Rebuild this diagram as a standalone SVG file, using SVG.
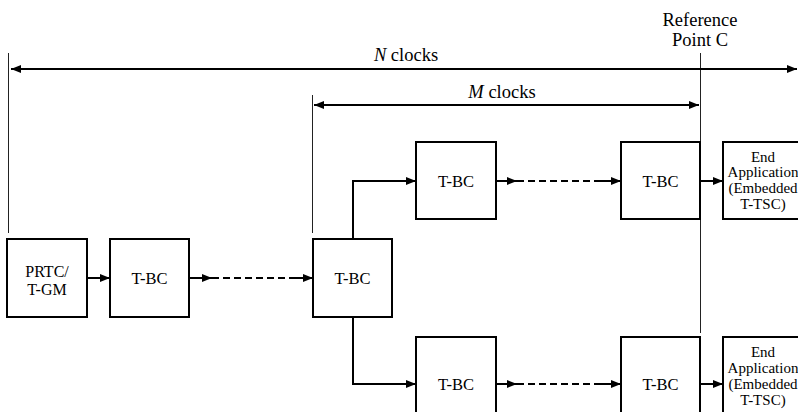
<svg xmlns="http://www.w3.org/2000/svg" width="798" height="412" viewBox="0 0 798 412">
<defs>
<marker id="ah" markerUnits="userSpaceOnUse" markerWidth="11" markerHeight="9" refX="10" refY="4" orient="auto-start-reverse">
<path d="M0,0 L10,4 L0,8 z" fill="#000"/>
</marker>
</defs>
<style>
.box{fill:#fff;stroke:#000;stroke-width:2}
text{font-family:"Liberation Serif","Times New Roman",serif;fill:#000;text-anchor:middle}
.t{font-size:16.5px}
.p{font-size:16px}
.e{font-size:15px}
.lbl{font-size:18.5px}
.guide{stroke:#222;stroke-width:1;fill:none}
.c{stroke:#000;stroke-width:2;fill:none}
.arr{marker-end:url(#ah)}
.dash{stroke-dasharray:7 4}
</style>
<g id="guides">
<line class="guide" x1="8.5" y1="53" x2="8.5" y2="233"/>
<line class="guide" x1="312.5" y1="95" x2="312.5" y2="233"/>
<line class="guide" x1="700.5" y1="53" x2="700.5" y2="333"/>
</g>
<g id="dimensions">
<line class="c" x1="11" y1="69" x2="797" y2="69" marker-start="url(#ah)" marker-end="url(#ah)"/>
<text class="lbl" x="406" y="61"><tspan font-style="italic">N</tspan> clocks</text>
<line class="c" x1="314" y1="105" x2="699" y2="105" marker-start="url(#ah)" marker-end="url(#ah)"/>
<text class="lbl" x="502" y="98"><tspan font-style="italic">M</tspan> clocks</text>
<text class="lbl" x="700" y="26">Reference</text>
<text class="lbl" x="700" y="46">Point C</text>
</g>
<g id="connectors">
<line class="c arr" x1="87" y1="278" x2="110" y2="278"/>
<line class="c arr" x1="189" y1="278" x2="212" y2="278"/>
<line class="c dash" x1="212" y1="278" x2="289" y2="278"/>
<line class="c arr" x1="289" y1="278" x2="313" y2="278"/>
<polyline class="c arr" points="353,239 353,181 416,181"/>
<polyline class="c arr" points="353,317 353,384 416,384"/>
<line class="c arr" x1="497" y1="181" x2="517" y2="181"/>
<line class="c dash" x1="517" y1="181" x2="598" y2="181"/>
<line class="c arr" x1="598" y1="181" x2="621" y2="181"/>
<line class="c arr" x1="700" y1="181" x2="723" y2="181"/>
<line class="c arr" x1="497" y1="384" x2="517" y2="384"/>
<line class="c dash" x1="517" y1="384" x2="598" y2="384"/>
<line class="c arr" x1="598" y1="384" x2="621" y2="384"/>
<line class="c arr" x1="700" y1="384" x2="723" y2="384"/>
</g>
<g id="prtc">
<rect class="box" x="7" y="239" width="80" height="78"/>
<text class="p" x="47" y="277">PRTC/</text>
<text class="p" x="47" y="295">T-GM</text>
</g>
<g id="tbc1">
<rect class="box" x="110" y="239" width="79" height="78"/>
<text class="t" x="149.5" y="284">T-BC</text>
</g>
<g id="tbc2">
<rect class="box" x="313" y="239" width="79" height="78"/>
<text class="t" x="352.5" y="284">T-BC</text>
</g>
<g id="tbc-up-a">
<rect class="box" x="416" y="142" width="80" height="77"/>
<text class="t" x="456" y="187">T-BC</text>
</g>
<g id="tbc-up-b">
<rect class="box" x="621" y="142" width="79" height="77"/>
<text class="t" x="660.5" y="187">T-BC</text>
</g>
<g id="end-up">
<rect class="box" x="723" y="142" width="80" height="77"/>
<text class="e" x="763" y="162">End</text>
<text class="e" x="763" y="177">Application</text>
<text class="e" x="763" y="193">(Embedded</text>
<text class="e" x="763" y="209">T-TSC)</text>
</g>
<g id="tbc-low-a">
<rect class="box" x="416" y="337" width="80" height="94"/>
<text class="t" x="456" y="390">T-BC</text>
</g>
<g id="tbc-low-b">
<rect class="box" x="621" y="337" width="79" height="94"/>
<text class="t" x="660.5" y="390">T-BC</text>
</g>
<g id="end-low">
<rect class="box" x="723" y="337" width="80" height="94"/>
<text class="e" x="763" y="357">End</text>
<text class="e" x="763" y="373">Application</text>
<text class="e" x="763" y="389">(Embedded</text>
<text class="e" x="763" y="405">T-TSC)</text>
</g>
</svg>
